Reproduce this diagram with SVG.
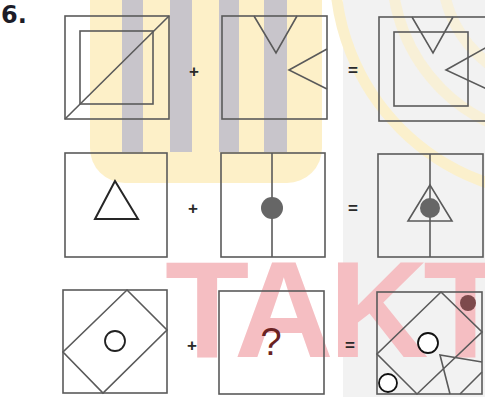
<svg xmlns="http://www.w3.org/2000/svg" width="485" height="397" viewBox="0 0 485 397">
<style>
.fr{fill:none;stroke:#5a5a5a;stroke-width:1.6}
.ln{fill:none;stroke:#5a5a5a;stroke-width:1.6;stroke-linejoin:miter}
.dk{fill:none;stroke:#262626;stroke-width:2}
.op{font-family:"Liberation Sans",Arial,sans-serif;font-weight:bold;font-size:17px;fill:#2a2a2a;text-anchor:middle}
.wm-y{fill:#fdf0c8}
.wm-g{fill:#c8c5cb}
.arc{fill:none;stroke:#fbf0cc;stroke-width:11}
</style>
<rect width="485" height="397" fill="#ffffff"/>
<g id="watermark">
  <rect x="343" y="0" width="142" height="397" fill="#f2f2f2"/>
  <path class="wm-y" d="M90,0 H322 V148 A35,35 0 0 1 287,183 H125 A35,35 0 0 1 90,148 Z"/>
  <rect class="wm-g" x="122" y="0" width="21" height="152"/>
  <rect class="wm-g" x="170" y="0" width="22" height="152"/>
  <rect class="wm-g" x="219" y="0" width="20" height="152"/>
  <rect class="wm-g" x="264" y="0" width="23" height="152"/>
  <circle class="arc" cx="560" cy="-30" r="225"/>
  <circle class="arc" cx="560" cy="-30" r="168" stroke-width="7" opacity="0.7"/>
  <circle class="arc" cx="560" cy="-30" r="118" stroke-width="6" opacity="0.6"/>
  <text x="165" y="357" font-family="Liberation Sans,Arial,sans-serif" font-weight="bold" font-size="138" letter-spacing="-5" fill="#f5bec2">TAKT</text>
</g>
<text id="num" x="1" y="23" font-family="DejaVu Sans,sans-serif" font-weight="bold" font-size="24" fill="#1c1c28">6.</text>
<g id="r1c1">
  <rect class="fr" x="65" y="16" width="104" height="103"/>
  <rect class="fr" x="80" y="31" width="73" height="73"/>
  <line class="ln" x1="65" y1="119" x2="169" y2="16"/>
</g>
<g id="r1c2">
  <rect class="fr" x="222" y="16" width="105" height="103"/>
  <polyline class="ln" points="254,16 276,53 297,16"/>
  <polyline class="ln" points="327,49 289,70 327,89"/>
</g>
<g id="r1c3">
  <rect class="fr" x="379" y="17" width="110" height="104"/>
  <rect class="fr" x="394" y="32" width="74" height="74"/>
  <polyline class="ln" points="412,17 433,53 453,17"/>
  <polyline class="ln" points="487,47 446,70 487,89"/>
</g>
<g id="r2c1">
  <rect class="fr" x="65" y="153" width="102" height="104"/>
  <polygon class="dk" points="115,181 95,219 138,219"/>
</g>
<g id="r2c2">
  <rect class="fr" x="221" y="153" width="104" height="104"/>
  <line class="ln" x1="272" y1="153" x2="272" y2="257"/>
  <circle cx="272" cy="208" r="11" fill="#666666"/>
</g>
<g id="r2c3">
  <rect class="fr" x="378" y="154" width="105" height="103"/>
  <line class="ln" x1="430" y1="154" x2="430" y2="257"/>
  <polygon class="ln" points="430,185 408,221 452,221"/>
  <circle cx="430" cy="208" r="10" fill="#666666"/>
</g>
<g id="r3c1">
  <rect class="fr" x="63" y="290" width="104" height="103"/>
  <polygon class="ln" points="127,290 167,330 103,393 63,352"/>
  <circle cx="115" cy="341" r="10" fill="#ffffff" stroke="#222222" stroke-width="1.8"/>
</g>
<g id="r3c2">
  <rect class="fr" x="219" y="291" width="105" height="103"/>
  <text x="271" y="355" font-family="Liberation Sans,Arial,sans-serif" font-size="38" fill="#6a2222" text-anchor="middle">?</text>
</g>
<g id="r3c3">
  <rect class="fr" x="377" y="292" width="105" height="102"/>
  <polygon class="ln" points="441,292 482,332 417,394 377,354"/>
  <polyline class="ln" points="482,362 440,355 450,394"/>
  <line class="ln" x1="482" y1="372" x2="460" y2="394"/>
  <circle cx="428" cy="343" r="10" fill="#ffffff" stroke="#111111" stroke-width="1.8"/>
  <circle cx="388" cy="383" r="9" fill="#ffffff" stroke="#111111" stroke-width="1.8"/>
  <circle cx="468" cy="303" r="8" fill="#7d4a4c"/>
</g>
<g id="connectors">
  <text class="op" x="194" y="77">+</text>
  <text class="op" x="193" y="214">+</text>
  <text class="op" x="192" y="351">+</text>
  <text class="op" x="353" y="76">=</text>
  <text class="op" x="353" y="214">=</text>
  <text class="op" x="350" y="351">=</text>
</g>
</svg>
